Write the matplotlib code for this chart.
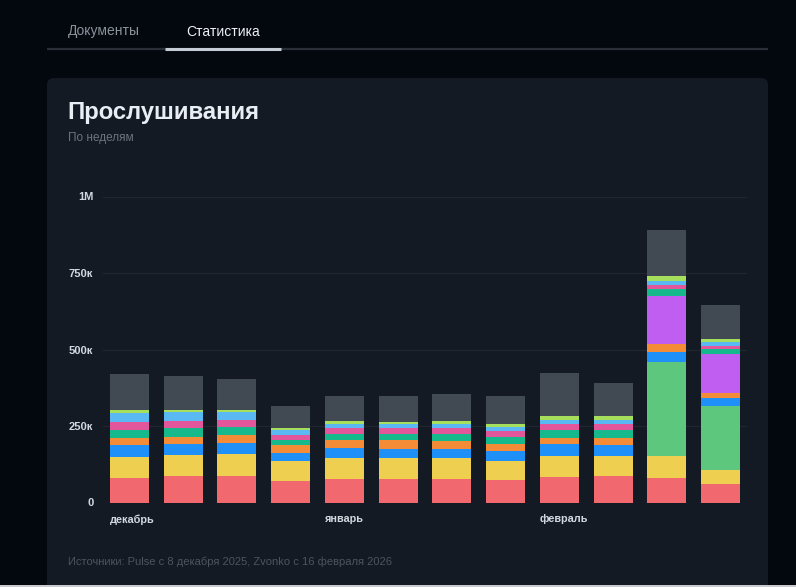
import matplotlib
matplotlib.use("Agg")
import matplotlib.pyplot as plt
from matplotlib.patches import FancyBboxPatch, Rectangle
import numpy as np

plt.rcParams['font.family'] = ['Liberation Sans', 'DejaVu Sans']

# ---- data ----
weeks = ["08.12", "15.12", "22.12", "29.12", "05.01", "12.01", "19.01", "26.01",
         "02.02", "09.02", "16.02", "23.02"]
month_labels = ["декабрь", "январь", "февраль"]
month_positions = [0, 4, 8]

red = [81000, 85000, 87000, 69000, 76000, 78000, 76000, 73000, 84000, 86000, 81000, 59000]
yellow = [68000, 69000, 72000, 67000, 71000, 67000, 68000, 63000, 69000, 66000, 70000, 46000]
green = [0, 0, 0, 0, 0, 0, 0, 0, 0, 0, 307000, 210000]
blue = [38000, 36000, 37000, 27000, 30000, 31000, 30000, 31000, 37000, 37000, 35000, 25000]
orange = [24000, 25000, 25000, 24000, 26000, 27000, 26000, 25000, 22000, 23000, 25000, 19000]
purple = [0, 0, 0, 0, 0, 0, 0, 0, 0, 0, 156000, 125000]
teal = [27000, 27000, 25000, 18000, 21000, 20000, 23000, 23000, 24000, 24000, 23000, 18000]
pink = [25000, 24000, 24000, 16000, 18000, 19000, 21000, 20000, 20000, 19000, 15000, 9000]
lightblue = [29000, 29000, 25000, 15000, 14000, 13000, 13000, 12000, 15000, 15000, 13000, 13000]
lime = [9000, 8000, 8000, 7000, 9000, 9000, 9000, 11000, 13000, 14000, 15000, 10000]
other = [118000, 112000, 100000, 73000, 83000, 85000, 89000, 91000, 139000, 105000, 149000, 113000]

series = [red, yellow, green, blue, orange, purple, teal, pink, lightblue, lime, other]
colors = ["#f1686f", "#efcf50", "#5cc77d", "#1f90f7", "#f48b37", "#c15ef2",
          "#15b98c", "#e2579b", "#5ab9f2", "#a5df5c", "#414953"]

y_ticks = [0, 250000, 500000, 750000, 1000000]
y_tick_labels = ["0", "250к", "500к", "750к", "1M"]

title = "Прослушивания"
subtitle = "По неделям"
footer = "Источники: Pulse с 8 декабря 2025, Zvonko с 16 февраля 2026"
tabs = ["Документы", "Статистика"]

# ---- figure ----
W, H = 796, 587
fig = plt.figure(figsize=(W / 100, H / 100), dpi=100)
fig.patch.set_facecolor("#03070e")

bg = fig.add_axes([0, 0, 1, 1])
bg.set_xlim(0, W)
bg.set_ylim(H, 0)
bg.axis("off")

# card
card = FancyBboxPatch((47, 78), 721, 560, boxstyle="round,pad=0,rounding_size=7",
                      facecolor="#141a23", edgecolor="none")
bg.add_patch(card)

# tabs
bg.plot([47, 768], [49, 49], color="#282f39", lw=1.6, solid_capstyle="butt")
bg.plot([165, 281], [48.6, 48.6], color="#c5ccd6", lw=2.2, solid_capstyle="butt")
bg.text(68, 31.5, tabs[0], color="#8a929c", fontsize=10, va="center", ha="left")
bg.text(186, 31.5, tabs[1], color="#eef2f6", fontsize=10, va="center", ha="left")

# title / subtitle / footer
bg.text(67, 113, title, color="#e9eef5", fontsize=17.2, fontweight="bold",
        va="center", ha="left")
bg.text(68, 138.5, subtitle, color="#6c747e", fontsize=8.5, va="center", ha="left")
bg.text(68, 562, footer, color="#4c545e", fontsize=8, va="center", ha="left")

# bottom light line
bg.add_patch(Rectangle((0, 585.3), W, 2, facecolor="#c8cacd", edgecolor="none"))

# ---- chart axes ----
left_px, right_px = 103, 747
top_px, bottom_px = 196.5, 502.5
ax = fig.add_axes([left_px / W, 1 - bottom_px / H,
                   (right_px - left_px) / W, (bottom_px - top_px) / H])
ax.set_facecolor("none")

pitch = 53.73
bar_w = 39 / pitch
first_center = 129.5
x = np.arange(len(weeks))
ax.set_xlim(-(first_center - left_px) / pitch, 11 + (right_px - (first_center + 11 * pitch)) / pitch)
ax.set_ylim(0, 1000000)

bottom = np.zeros(len(weeks))
for vals, c in zip(series, colors):
    v = np.array(vals, dtype=float)
    ax.bar(x, v, bottom=bottom, width=bar_w, color=c, linewidth=0, zorder=3)
    bottom += v

ax.set_yticks(y_ticks)
ax.set_yticklabels(y_tick_labels)
ax.yaxis.grid(True, color="#1f2630", linewidth=0.9, zorder=0)
ax.set_axisbelow(True)

ax.set_xticks([p - bar_w / 2 for p in month_positions])
ax.set_xticklabels(month_labels)
for lab in ax.get_xticklabels():
    lab.set_ha("left")

ax.tick_params(axis="y", length=0, pad=7, labelsize=8, labelcolor="#d2d8df")
ax.tick_params(axis="x", length=0, pad=8.5, labelsize=7.8, labelcolor="#d2d8df")
for lab in ax.get_yticklabels() + ax.get_xticklabels():
    lab.set_fontweight("bold")
for s in ax.spines.values():
    s.set_visible(False)

fig.savefig("out.png", dpi=100, facecolor=fig.get_facecolor())
